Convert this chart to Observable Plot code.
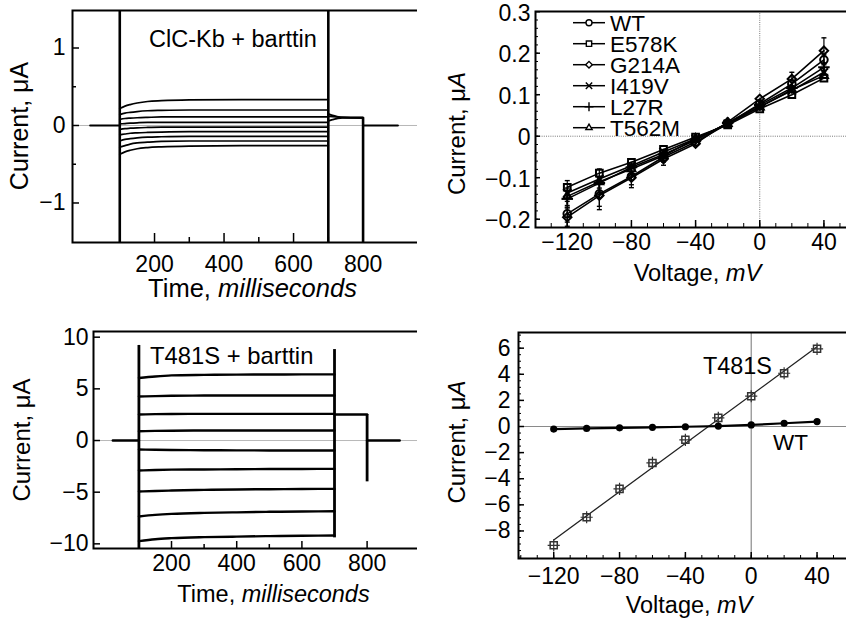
<!DOCTYPE html>
<html><head><meta charset="utf-8">
<script src="https://cdn.jsdelivr.net/npm/d3@7"></script>
<script src="https://cdn.jsdelivr.net/npm/@observablehq/plot@0.6"></script>
<style>
html,body{margin:0;padding:0;background:#fff;overflow:hidden}
#wrap{position:relative;width:846px;height:621px;overflow:hidden;background:#fff}
.panel{position:absolute;overflow:hidden}
.panel svg{max-width:none !important;display:block}
</style></head><body><div id="wrap">
<div class="panel" id="pC" style="left:0;top:300px;width:417px;height:321px"></div>
<div class="panel" id="pD" style="left:420px;top:300px;width:426px;height:321px"></div>
<div class="panel" id="pA" style="left:0;top:0;width:417px;height:306px"></div>
<div class="panel" id="pB" style="left:420px;top:0;width:426px;height:300px"></div>
</div>
<script>
// ---------- Panel A : ClC-Kb + barttin current traces ----------
const timeA = [100, 115, 130, 150, 180, 220, 300, 450, 700];
const tracesA = [
  [0.22, 0.25, 0.27, 0.29, 0.31, 0.32, 0.33, 0.335, 0.335],
  [0.14, 0.16, 0.17, 0.18, 0.19, 0.195, 0.2, 0.2, 0.2],
  [0.08, 0.09, 0.095, 0.1, 0.105, 0.11, 0.11, 0.11, 0.11],
  [0.02, 0.025, 0.03, 0.035, 0.04, 0.04, 0.04, 0.04, 0.04],
  [-0.05, -0.04, -0.035, -0.03, -0.025, -0.02, -0.02, -0.02, -0.02],
  [-0.12, -0.11, -0.1, -0.095, -0.09, -0.085, -0.08, -0.08, -0.08],
  [-0.2, -0.18, -0.17, -0.16, -0.15, -0.145, -0.14, -0.14, -0.14],
  [-0.28, -0.26, -0.24, -0.225, -0.215, -0.205, -0.2, -0.2, -0.2],
  [-0.37, -0.34, -0.32, -0.3, -0.285, -0.275, -0.265, -0.26, -0.26]
];
const tailTimeA = [700, 712, 725, 740, 800];
const tailsA = [
  [0.15, 0.13, 0.115, 0.105, 0.1],
  [0.12, 0.115, 0.11, 0.105, 0.1],
  [0.06, 0.075, 0.09, 0.1, 0.1]
];
const baseSegA = [[15, 100], [800, 900]];
const spikeTimesA = [100, 700, 800];
const spikeLowA = [-1.7, -1.7, -1.7];
const spikeHighA = [1.7, 1.7, 0.1];
const yTicksA = [-1, 0, 1];
const yMinorA = [-0.5, 0.5];
const xTicksA = [200, 400, 600, 800];
const xMinorA = [300, 500, 700];

// ---------- Panel B : I-V of ClC-Kb mutants ----------
const voltages = [-120, -100, -80, -60, -40, -20, 0, 20, 40];
const mutantNames = ["WT", "E578K", "G214A", "I419V", "L27R", "T562M"];
const mutantSymbols = ["circle", "square", "diamond2", "times", "plus", "triangle2"];
const wtB    = [-0.187, -0.139, -0.097, -0.05, -0.014, 0.03, 0.078, 0.126, 0.184];
const e578kB = [-0.123, -0.089, -0.063, -0.032, -0.002, 0.027, 0.066, 0.1, 0.14];
const g214aB = [-0.195, -0.143, -0.1, -0.055, -0.018, 0.034, 0.09, 0.138, 0.206];
const i419vB = [-0.137, -0.103, -0.071, -0.038, -0.006, 0.03, 0.071, 0.11, 0.154];
const l27rB  = [-0.151, -0.113, -0.075, -0.044, -0.01, 0.032, 0.075, 0.116, 0.166];
const t562mB = [-0.145, -0.11, -0.079, -0.047, -0.006, 0.03, 0.07, 0.112, 0.146];
const wtErrB    = [0.02, 0.03, 0.02, 0.012, 0.006, 0.004, 0.005, 0.008, 0.012];
const e578kErrB = [0.016, 0.01, 0.006, 0.005, 0.004, 0.004, 0.004, 0.006, 0.008];
const g214aErrB = [0.022, 0.034, 0.024, 0.015, 0.006, 0.005, 0.005, 0.016, 0.031];
const i419vErrB = [0.012, 0.008, 0.006, 0.005, 0.004, 0.004, 0.004, 0.006, 0.008];
const l27rErrB  = [0.02, 0.012, 0.008, 0.006, 0.004, 0.004, 0.005, 0.008, 0.01];
const t562mErrB = [0.012, 0.008, 0.006, 0.005, 0.004, 0.004, 0.004, 0.006, 0.008];
const yTicksB = [-0.2, -0.1, 0, 0.1, 0.2, 0.3];
const xTicksIV = [-120, -80, -40, 0, 40];

// ---------- Panel C : T481S + barttin current traces ----------
const timeC = [100, 150, 200, 300, 400, 500, 600, 700];
const tracesC = [
  [6.05, 6.2, 6.3, 6.35, 6.38, 6.39, 6.4, 6.4],
  [4.26, 4.3, 4.33, 4.35, 4.35, 4.35, 4.35, 4.35],
  [2.52, 2.55, 2.57, 2.58, 2.58, 2.58, 2.58, 2.58],
  [0.9, 0.93, 0.95, 0.97, 0.97, 0.97, 0.97, 0.97],
  [-0.87, -0.9, -0.92, -0.94, -0.95, -0.96, -0.97, -0.97],
  [-2.9, -2.85, -2.82, -2.8, -2.78, -2.76, -2.75, -2.74],
  [-4.94, -4.88, -4.84, -4.78, -4.74, -4.71, -4.69, -4.68],
  [-7.35, -7.2, -7.1, -7.0, -6.95, -6.9, -6.87, -6.84],
  [-9.74, -9.55, -9.45, -9.35, -9.3, -9.25, -9.22, -9.19]
];
const tailTimeC = [700, 800];
const tailC = [2.52, 2.52];
const baseSegC = [[20, 100], [800, 900]];
const spikeTimesC = [100, 700, 800];
const spikeLowC = [-11, -9.42, -4.0];
const spikeHighC = [9.2, 8.8, 2.52];
const yTicksC = [-10, -5, 0, 5, 10];
const xTicksC = [200, 400, 600, 800];
const xMinorC = [300, 500];

// ---------- Panel D : I-V T481S vs WT ----------
const t481sD = [-9.1, -6.95, -4.78, -2.79, -1.02, 0.66, 2.32, 4.08, 5.95];
const wtD    = [-0.2, -0.15, -0.1, -0.06, -0.02, 0.03, 0.12, 0.25, 0.38];
const yTicksD = [-8, -6, -4, -2, 0, 2, 4, 6];

// ---------- helpers ----------
const FONT = "'Liberation Sans', Arial, Helvetica, sans-serif";
const fmt = d3.format("~g");
function style(size) {
  return {fontFamily: FONT, fontSize: size + "px", background: "transparent", color: "black", overflow: "visible", maxWidth: "none"};
}
function inX(ticks, size, w = 1.5) {
  return Plot.axisX({ticks, tickSize: size, dy: -size, fill: "none", label: null, strokeWidth: w});
}
function inY(ticks, size, w = 1.5) {
  return Plot.axisY({ticks, tickSize: size, dx: size, fill: "none", label: null, strokeWidth: w});
}
function labX(ticks, pad) {
  return Plot.axisX({ticks, tickSize: 0, tickPadding: pad, label: null, tickFormat: fmt});
}
function labY(ticks, pad, dy = 0) {
  return Plot.axisY({ticks, tickSize: 0, tickPadding: pad, label: null, tickFormat: fmt, dy});
}
function fixSize(svg, w, h) {
  svg.style.maxWidth = "none";
  svg.style.width = w + "px";
  svg.style.height = h + "px";
}
function addText(svg, x, y, parts, size, opts = {}) {
  const t = d3.select(svg).append("text")
    .attr("font-family", FONT).attr("font-size", size).attr("fill", "black")
    .attr("text-anchor", opts.anchor || "start");
  if (opts.rotate) t.attr("transform", `translate(${x},${y}) rotate(-90)`);
  else t.attr("x", x).attr("y", y);
  for (const [s, it] of parts) {
    const sp = t.append("tspan").text(s);
    if (it) sp.attr("font-style", "italic");
  }
  return t;
}
const segRows = (segs) => segs.flatMap((s, k) => s.map(t => ({t, v: 0, k})));
const traceRows = (times, traces) => traces.flatMap((tr, k) => tr.map((v, j) => ({t: times[j], v, k})));
const spikeRows = (ts, lo, hi) => ts.map((t, i) => ({t, lo: lo[i], hi: hi[i]}));

// ---------- Panel A ----------
{
  const svg = Plot.plot({
    width: 440, height: 306, marginLeft: 72, marginRight: 2, marginTop: 10, marginBottom: 64,
    x: {domain: [-36, 1017]}, y: {domain: [-1.51, 1.484]},
    style: style(23),
    marks: [
      Plot.ruleY([0], {stroke: "#b8b8b8", strokeWidth: 1}),
      Plot.line(segRows(baseSegA), {x: "t", y: "v", z: "k", stroke: "black", strokeWidth: 2.2}),
      Plot.line(traceRows(timeA, tracesA), {x: "t", y: "v", z: "k", stroke: "black", strokeWidth: 1.7, curve: "monotone-x"}),
      Plot.line(traceRows(tailTimeA, tailsA), {x: "t", y: "v", z: "k", stroke: "black", strokeWidth: 1.8, curve: "monotone-x"}),
      Plot.ruleX(spikeRows(spikeTimesA, spikeLowA, spikeHighA), {x: "t", y1: "lo", y2: "hi", stroke: "black", strokeWidth: 2.6, clip: true}),
      Plot.frame({stroke: "black", strokeWidth: 2}),
      inY(yTicksA, 7), inY(yMinorA, 4),
      inX(xTicksA, 9), inX(xMinorA, 5),
      labY(yTicksA, 7), labX(xTicksA, 13)
    ]
  });
  fixSize(svg, 440, 306);
  addText(svg, 149, 46.7, [["ClC-Kb + barttin", false]], 23.5);
  addText(svg, 252.5, 296.5, [["Time, ", false], ["milliseconds", true]], 25.5, {anchor: "middle"});
  addText(svg, 28, 126, [["Current, μA", false]], 25, {anchor: "middle", rotate: true});
  document.getElementById("pA").append(svg);
}

// ---------- Panel B ----------
{
  const seriesB = [wtB, e578kB, g214aB, i419vB, l27rB, t562mB];
  const errsB = [wtErrB, e578kErrB, g214aErrB, i419vErrB, l27rErrB, t562mErrB];
  const rows = seriesB.flatMap((s, k) => s.map((i, j) => ({v: voltages[j], i, e: errsB[k][j], name: mutantNames[k]})));
  const cap = {draw(ctx, size) { const w = Math.sqrt(size / Math.PI); ctx.moveTo(-w, 0); ctx.lineTo(w, 0); }};
  const errRows = rows.filter(d => d.e >= 0.01);
  const capRows = errRows.flatMap(d => [{v: d.v, y: d.i + d.e}, {v: d.v, y: d.i - d.e}]);
  const svg = Plot.plot({
    width: 446, height: 300, marginLeft: 115, marginRight: 6, marginTop: 11, marginBottom: 73,
    x: {domain: [-139.8, 62.8]}, y: {domain: [-0.22, 0.3005]},
    symbol: {domain: mutantNames, range: mutantSymbols},
    style: style(23),
    marks: [
      Plot.ruleY([0], {stroke: "#777", strokeWidth: 1, strokeDasharray: "1,1.2"}),
      Plot.ruleX([0], {stroke: "#777", strokeWidth: 1, strokeDasharray: "1,1.2"}),
      Plot.ruleX(errRows, {x: "v", y1: d => d.i - d.e, y2: d => d.i + d.e, stroke: "black", strokeWidth: 1.2}),
      Plot.dot(capRows, {x: "v", y: "y", symbol: cap, r: 2.5, stroke: "black", strokeWidth: 1.4, fill: "none"}),
      Plot.line(rows, {x: "v", y: "i", z: "name", stroke: "black", strokeWidth: 1.6}),
      Plot.dot(rows, {x: "v", y: "i", symbol: "name", r: 3.8, stroke: "black", strokeWidth: 2, fill: "none"}),
      Plot.frame({stroke: "black", strokeWidth: 2}),
      inY(yTicksB, 5), inY(d3.range(-0.22, 0.3, 0.02).map(v => +v.toFixed(2)), 3, 1),
      inX(xTicksIV, 7), inX(d3.range(-130, 60, 10), 4, 1),
      labY(yTicksB, 5, 1.5), labX(xTicksIV, 6)
    ]
  });
  fixSize(svg, 446, 300);
  // legend
  const g = d3.select(svg).append("g");
  mutantNames.forEach((name, k) => {
    const cy = 22.7 + k * 21;
    g.append("line").attr("x1", 153).attr("x2", 185).attr("y1", cy).attr("y2", cy).attr("stroke", "black").attr("stroke-width", 1.5);
    const symType = {circle: d3.symbolCircle, square: d3.symbolSquare, diamond2: d3.symbolDiamond2, times: d3.symbolTimes, plus: d3.symbolPlus, triangle2: d3.symbolTriangle2}[mutantSymbols[k]];
    g.append("path").attr("d", d3.symbol(symType, Math.PI * 3 * 3)()).attr("transform", `translate(169,${cy})`)
      .attr("fill", "white").attr("stroke", "black").attr("stroke-width", 1.4);
    g.append("text").attr("x", 190).attr("y", cy + 8.2).attr("text-anchor", "start")
      .attr("font-family", FONT).attr("font-size", 22.5).attr("fill", "black").text(name);
  });
  addText(svg, 277.5, 281, [["Voltage, ", false], ["mV", true]], 23.7, {anchor: "middle"});
  addText(svg, 45, 133.5, [["Current, μ", false], ["A", true]], 24, {anchor: "middle", rotate: true});
  document.getElementById("pB").append(svg);
}

// ---------- Panel C ----------
{
  const svg = Plot.plot({
    width: 440, height: 321, marginLeft: 93, marginRight: 2, marginTop: 31, marginBottom: 73,
    x: {domain: [-39.3, 1019]}, y: {domain: [-10.45, 10.55]},
    style: style(23),
    marks: [
      Plot.ruleY([0], {stroke: "#b8b8b8", strokeWidth: 1}),
      Plot.line(segRows(baseSegC), {x: "t", y: "v", z: "k", stroke: "black", strokeWidth: 2.4}),
      Plot.line(traceRows(timeC, tracesC), {x: "t", y: "v", z: "k", stroke: "black", strokeWidth: 2.4, curve: "monotone-x"}),
      Plot.line(tailTimeC.map((t, j) => ({t, v: tailC[j]})), {x: "t", y: "v", stroke: "black", strokeWidth: 2.4}),
      Plot.ruleX(spikeRows(spikeTimesC, spikeLowC, spikeHighC), {x: "t", y1: "lo", y2: "hi", stroke: "black", strokeWidth: 2.8, clip: true}),
      Plot.frame({stroke: "black", strokeWidth: 2}),
      inY(yTicksC, 7),
      inX(xTicksC, 7), inX(xMinorC, 4),
      labY(yTicksC, 5), labX(xTicksC, 6)
    ]
  });
  fixSize(svg, 440, 321);
  addText(svg, 150, 64.3, [["T481S + barttin", false]], 23.8);
  addText(svg, 273.5, 302, [["Time, ", false], ["milliseconds", true]], 23.5, {anchor: "middle"});
  addText(svg, 30, 140, [["Current, μA", false]], 24, {anchor: "middle", rotate: true});
  document.getElementById("pC").append(svg);
}

// ---------- Panel D ----------
{
  const rowsT = voltages.map((v, j) => ({v, i: t481sD[j]}));
  const rowsW = voltages.map((v, j) => ({v, i: wtD[j]}));
  const svg = Plot.plot({
    width: 446, height: 321, marginLeft: 98, marginRight: 6, marginTop: 32, marginBottom: 63,
    x: {domain: [-141.4, 66.4]}, y: {domain: [-10.11, 7.2]},
    style: style(23),
    marks: [
      Plot.ruleY([0], {stroke: "#8a8a8a", strokeWidth: 1.2}),
      Plot.ruleX([0], {stroke: "#8a8a8a", strokeWidth: 1.2}),
      Plot.linearRegressionY(rowsT, {x: "v", y: "i", stroke: "#222", strokeWidth: 1.3, ci: 0}),
      Plot.dot(rowsT, {x: "v", y: "i", symbol: "square", r: 4, stroke: "#333", strokeWidth: 1.5, fill: "none"}),
      Plot.dot(rowsT, {x: "v", y: "i", symbol: "plus", r: 4, stroke: "#333", strokeWidth: 1.2}),
      Plot.line(rowsW, {x: "v", y: "i", stroke: "black", strokeWidth: 2.2}),
      Plot.dot(rowsW, {x: "v", y: "i", r: 3.6, fill: "black"}),
      Plot.frame({stroke: "black", strokeWidth: 2}),
      inY(yTicksD, 6), inY(d3.range(-10, 7.01, 0.5), 3, 1),
      inX(xTicksIV, 6), inX(d3.range(-140, 60, 10), 3, 1),
      labY(yTicksD, 8), labX(xTicksIV, 9)
    ]
  });
  fixSize(svg, 446, 321);
  addText(svg, 283, 73.5, [["T481S", false]], 23.4);
  addText(svg, 353, 150, [["WT", false]], 22.5);
  addText(svg, 269, 313, [["Voltage, ", false], ["mV", true]], 23.5, {anchor: "middle"});
  addText(svg, 45, 142, [["Current, μ", false], ["A", true]], 24, {anchor: "middle", rotate: true});
  document.getElementById("pD").append(svg);
}
</script></body></html>
